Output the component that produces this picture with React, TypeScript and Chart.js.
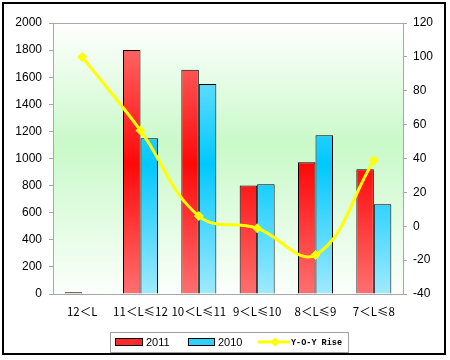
import React, { useEffect, useRef } from "react";
import { Chart, registerables } from "chart.js";

Chart.register(...registerables);

const categories = ["12＜L", "11＜L≤12", "10＜L≤11", "9＜L≤10", "8＜L≤9", "7＜L≤8"];
const sales2011 = [12, 1800, 1655, 800, 972, 920];
const sales2010 = [6, 1150, 1550, 810, 1171, 662];
const yoyRise = [100, 56.5, 6, -1.2, -17, 39];
const leftTicks = [0, 200, 400, 600, 800, 1000, 1200, 1400, 1600, 1800, 2000];
const rightTicks = [-40, -20, 0, 20, 40, 60, 80, 100, 120];
const legendLabels = ["2011", "2010", "Y-O-Y Rise"];

function vGrad(chart: any, stops: [number, string][], fallback: string) {
  const area = chart.chartArea;
  if (!area) return fallback;
  const g = chart.ctx.createLinearGradient(0, area.top, 0, area.bottom);
  stops.forEach(([p, c]) => g.addColorStop(p, c));
  return g;
}

const redStops: [number, string][] = [[0, "#ff7878"], [0.52, "#ff0808"], [1, "#ff7070"]];
const blueStops: [number, string][] = [[0, "#a0eaff"], [0.52, "#00c8ff"], [1, "#a0eaff"]];

const framePlugin = {
  id: "frame",
  beforeDatasetsDraw(chart: any) {
    const { ctx, chartArea: a } = chart;
    ctx.save();
    ctx.fillStyle = vGrad(chart, [[0, "#ffffff"], [0.45, "#c9f9c9"], [1, "#fbfffb"]], "#e0ffe0");
    ctx.fillRect(a.left, a.top, a.right - a.left, a.bottom - a.top);
    ctx.strokeStyle = "#a8a8a8";
    ctx.lineWidth = 1;
    ctx.strokeRect(Math.round(a.left) + 0.5, Math.round(a.top) + 0.5, Math.round(a.right - a.left), Math.round(a.bottom - a.top));
    ctx.restore();
  },
  afterDraw(chart: any) {
    const { ctx } = chart;
    ctx.save();
    ctx.strokeStyle = "#000";
    ctx.lineWidth = 2;
    ctx.strokeRect(3, 3, 442, 351);
    ctx.lineWidth = 1;
    ctx.strokeStyle = "#a0a0a0";
    ctx.strokeRect(110.5, 332.5, 238, 20);
    ctx.fillStyle = "#ff2a2a";
    ctx.fillRect(115, 338.5, 28, 7);
    ctx.strokeStyle = "#000";
    ctx.strokeRect(115.5, 338.5, 27, 7);
    ctx.fillStyle = "#30d0ff";
    ctx.fillRect(188, 338.5, 26, 7);
    ctx.strokeRect(188.5, 338.5, 26, 7);
    ctx.strokeStyle = "#ffff00";
    ctx.lineWidth = 3;
    ctx.beginPath();
    ctx.moveTo(258, 342);
    ctx.lineTo(290, 342);
    ctx.stroke();
    ctx.fillStyle = "#ffff00";
    ctx.beginPath();
    ctx.moveTo(275, 337.5);
    ctx.lineTo(279.5, 342);
    ctx.lineTo(275, 346.5);
    ctx.lineTo(270.5, 342);
    ctx.closePath();
    ctx.fill();
    ctx.fillStyle = "#000";
    ctx.textBaseline = "middle";
    ctx.textAlign = "left";
    ctx.font = "11px 'Liberation Sans', Arial, sans-serif";
    ctx.fillText(legendLabels[0], 146, 342.5);
    ctx.fillText(legendLabels[1], 218, 342.5);
    ctx.font = "bold 8.5px 'Liberation Mono', monospace";
    ctx.fillText(legendLabels[2], 291, 342.5);
    ctx.restore();
  },
};

export default function App() {
  const ref = useRef<HTMLCanvasElement>(null);
  useEffect(() => {
    if (!ref.current) return;
    const chart = new Chart(ref.current, {
      type: "bar",
      data: {
        labels: categories,
        datasets: [
          {
            type: "line",
            label: legendLabels[2],
            data: yoyRise,
            yAxisID: "y1",
            borderColor: "#ffff00",
            backgroundColor: "#ffff00",
            borderWidth: 3,
            tension: 0.4,
            pointStyle: "rectRot",
            pointRadius: 5,
            pointBorderWidth: 0,
            order: 0,
          } as any,
          {
            label: legendLabels[0],
            data: sales2011,
            yAxisID: "y",
            backgroundColor: (c: any) => vGrad(c.chart, redStops, "#ff2a2a"),
            borderColor: "#000",
            borderWidth: 1,
            categoryPercentage: 0.6,
            barPercentage: 1,
            order: 1,
          },
          {
            label: legendLabels[1],
            data: sales2010,
            yAxisID: "y",
            backgroundColor: (c: any) => vGrad(c.chart, blueStops, "#30d0ff"),
            borderColor: "#000",
            borderWidth: 1,
            categoryPercentage: 0.6,
            barPercentage: 1,
            order: 1,
          },
        ],
      },
      options: {
        animation: false,
        responsive: false,
        layout: { padding: { top: 23, left: 0, right: 0, bottom: 0 } },
        plugins: { legend: { display: false }, tooltip: { enabled: false } },
        scales: {
          x: {
            afterFit: (s: any) => { s.height = 66; },
            grid: { display: false, drawTicks: false },
            border: { display: false },
            ticks: {
              padding: 11,
              color: "#000",
              maxRotation: 0,
              minRotation: 0,
              autoSkip: false,
              font: { family: "'Noto Sans CJK SC', sans-serif", size: 11.5 },
            },
          },
          y: {
            position: "left",
            min: 0,
            max: 2000,
            afterFit: (s: any) => { s.width = 53; },
            afterBuildTicks: (s: any) => { s.ticks = leftTicks.map((v) => ({ value: v })); },
            grid: { drawOnChartArea: false, tickLength: 4, color: "#a8a8a8" },
            border: { display: false },
            ticks: {
              padding: 7,
              color: "#000",
              callback: (v: any) => String(v),
              font: { family: "'Liberation Sans', Arial, sans-serif", size: 12 },
            },
          },
          y1: {
            position: "right",
            min: -40,
            max: 120,
            afterFit: (s: any) => { s.width = 47; },
            afterBuildTicks: (s: any) => { s.ticks = rightTicks.map((v) => ({ value: v })); },
            grid: { drawOnChartArea: false, tickLength: 4, color: "#a8a8a8" },
            border: { display: false },
            ticks: {
              padding: 6,
              color: "#000",
              callback: (v: any) => String(v),
              font: { family: "'Liberation Sans', Arial, sans-serif", size: 12 },
            },
          },
        },
      },
      plugins: [framePlugin],
    });
    return () => chart.destroy();
  }, []);
  return (
    <div style={{ position: "absolute", left: 0, top: 0, width: 450, height: 360, background: "#fff" }}>
      <canvas ref={ref} width={450} height={360} style={{ display: "block" }} />
    </div>
  );
}
